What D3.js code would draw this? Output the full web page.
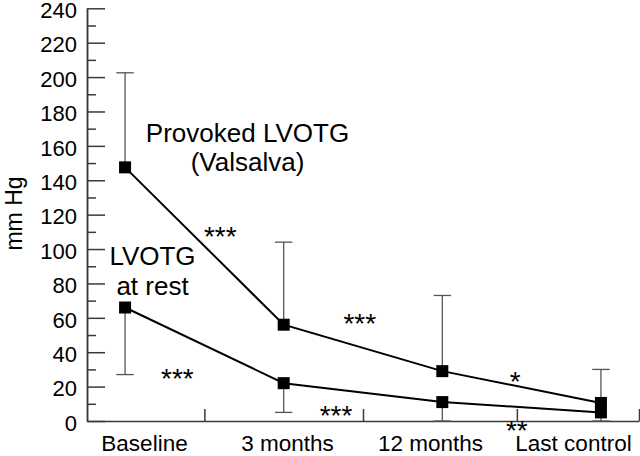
<!DOCTYPE html>
<html><head><meta charset="utf-8">
<script src="https://cdn.jsdelivr.net/npm/d3@7"></script>
<style>
html,body{margin:0;padding:0;background:#fff;}
text{font-family:"Liberation Sans",Arial,Helvetica,sans-serif;fill:#000;}
</style></head>
<body>
<script>
const categories = ["Baseline", "3 months", "12 months", "Last control"];
const provoked = [147.5, 56, 29, 10.5];
const provokedUpper = [202.5, 104, 73, 30];
const rest = [66, 22, 11, 5];
const restLower = [27, 5, 0, 0];
const yMajorTicks = [0, 20, 40, 60, 80, 100, 120, 140, 160, 180, 200, 220, 240];
const yMinorTicks = [10, 30, 50, 70, 90, 110, 130, 150, 170, 190, 210, 230];
const xDividers = [0.5, 1.5, 2.47, 3.24];
// significance marks: [x (category index), y (mm Hg, mark centre), label]
const sigMarks = [
  [0.6, 111, "***"],
  [0.33, 28.5, "***"],
  [1.48, 60.5, "***"],
  [1.33, 7, "***"],
  [2.46, 27, "*"],
  [2.47, -1.5, "**"]
];

const W = 640, H = 456;
const svg = d3.select("body").append("svg").attr("width", W).attr("height", H);

const x = d3.scaleLinear().domain([-0.24, 3.24]).range([87, 639]);
const xl = d3.scalePoint().domain(categories).range([144.5, 573.5]);
const y = d3.scaleLinear().domain([0, 240]).range([421, 8.3]);

const axisColor = "#3a3a3a";

// Y axis major
const gy = svg.append("g").attr("transform", "translate(87,0)")
  .call(d3.axisLeft(y).tickValues(yMajorTicks).tickSize(-18).tickSizeOuter(0).tickPadding(10));
gy.selectAll("text").attr("font-size", 22).attr("dy", "0.42em")
  .style("font-family", '"Liberation Sans",Arial,sans-serif').attr("fill", "#000");
// Y axis minor
const gy2 = svg.append("g").attr("transform", "translate(87,0)")
  .call(d3.axisLeft(y).tickValues(yMinorTicks).tickSize(-9).tickSizeOuter(0).tickFormat(""));
[gy, gy2].forEach(g => {
  g.selectAll("line").attr("stroke", axisColor).attr("stroke-width", 1.5);
  g.select(".domain").attr("stroke", axisColor).attr("stroke-width", 1.5);
});

// X axis
const gx = svg.append("g").attr("transform", "translate(0,421)")
  .call(d3.axisBottom(x).tickValues(xDividers).tickSize(-12).tickSizeOuter(0).tickFormat(""));
gx.selectAll("line").attr("stroke", axisColor).attr("stroke-width", 1.5);
gx.select(".domain").attr("stroke", axisColor).attr("stroke-width", 1.5);

// X category labels
svg.append("g").selectAll("text").data(categories).join("text")
  .attr("x", d => xl(d)).attr("y", 451).attr("text-anchor", "middle")
  .attr("font-size", 22.5).text(d => d);

// Y title
svg.append("text").attr("transform", "translate(22,213.5) rotate(-90)")
  .attr("text-anchor", "middle").attr("font-size", 23).text("mm Hg");

const idx = d3.range(categories.length);
const capW = 8.7;
const errColor = "#555";

// Error bars
function errorBars(vals, ends) {
  const g = svg.append("g").attr("stroke", errColor).attr("stroke-width", 1.3);
  g.selectAll("line.v").data(idx).join("line").attr("class", "v")
    .attr("x1", i => x(i)).attr("x2", i => x(i))
    .attr("y1", i => y(vals[i])).attr("y2", i => y(ends[i]));
  g.selectAll("line.c").data(idx).join("line").attr("class", "c")
    .attr("x1", i => x(i) - capW).attr("x2", i => x(i) + capW)
    .attr("y1", i => y(ends[i])).attr("y2", i => y(ends[i]));
}
errorBars(provoked, provokedUpper);
errorBars(rest, restLower);

// Lines
const line = d3.line().x((d, i) => x(i)).y(d => y(d));
[provoked, rest].forEach(s => {
  svg.append("path").datum(s).attr("d", line)
    .attr("fill", "none").attr("stroke", "#000").attr("stroke-width", 2);
  svg.append("g").selectAll("rect").data(s).join("rect")
    .attr("x", (d, i) => x(i) - 6).attr("y", d => y(d) - 6)
    .attr("width", 12).attr("height", 12).attr("fill", "#000");
});

// Annotations
const ann = svg.append("g").attr("font-size", 26).attr("text-anchor", "middle");
ann.append("text").attr("x", 247.5).attr("y", 141.5).text("Provoked LVOTG");
ann.append("text").attr("x", 247.5).attr("y", 171).text("(Valsalva)");
ann.append("text").attr("x", 152.5).attr("y", 265).text("LVOTG");
ann.append("text").attr("x", 152.5).attr("y", 295).text("at rest");

// Significance marks
svg.append("g").selectAll("text").data(sigMarks).join("text")
  .attr("x", d => x(d[0])).attr("y", d => y(d[1]) + 16)
  .attr("text-anchor", "middle").attr("font-size", 28).text(d => d[2]);
</script>
</body></html>
